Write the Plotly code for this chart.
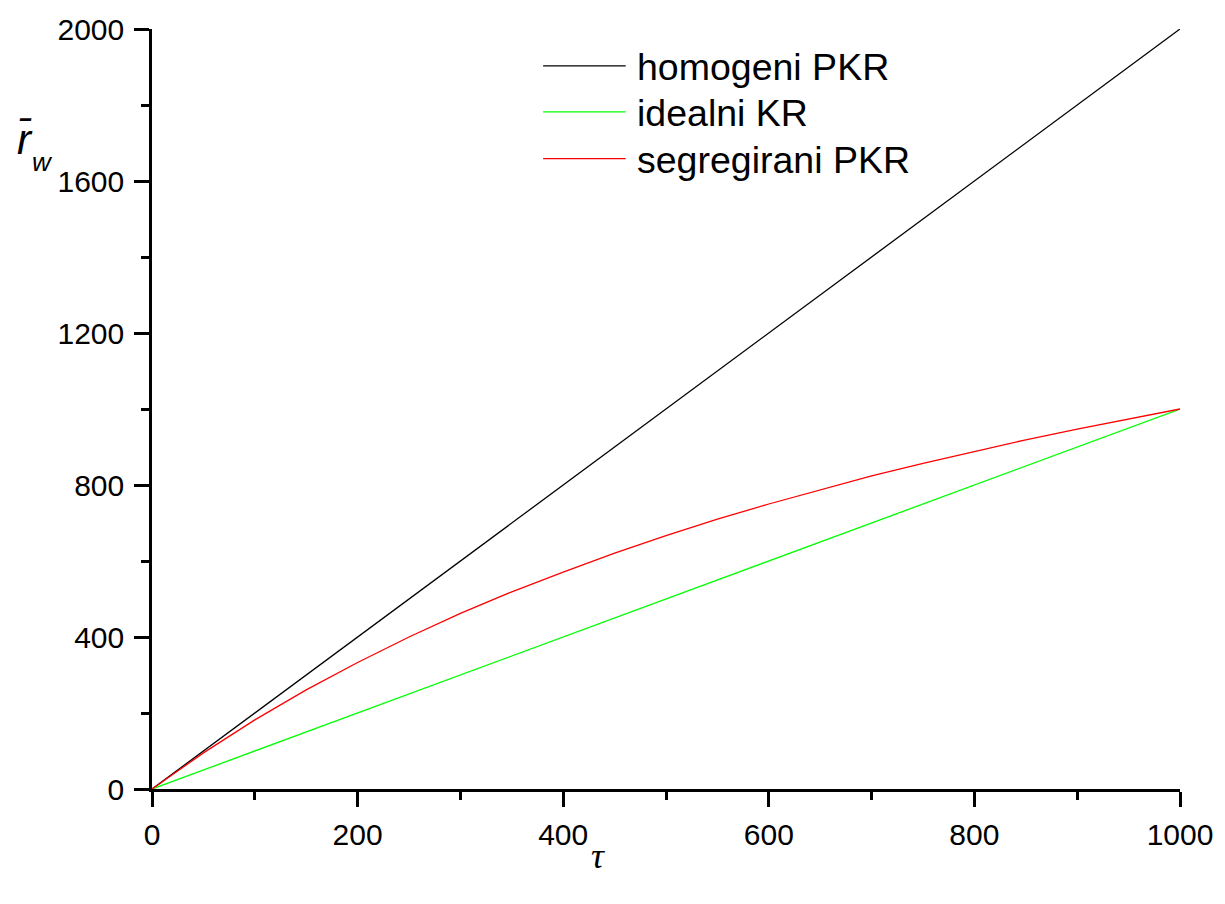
import plotly.graph_objects as go

# dimensionless time
tau = [0, 50, 100, 150, 200, 250, 300, 350, 400, 450, 500,
       550, 600, 650, 700, 750, 800, 850, 900, 950, 1000]

# mean rate for each reactor model
r_homogeni = [0, 100, 200, 300, 400, 500, 600, 700, 800, 900, 1000,
              1100, 1200, 1300, 1400, 1500, 1600, 1700, 1800, 1900, 2000]
r_idealni = [0, 50, 100, 150, 200, 250, 300, 350, 400, 450, 500,
             550, 600, 650, 700, 750, 800, 850, 900, 950, 1000]
r_segregirani = [0, 95, 182, 261, 333, 400, 462, 519, 571, 621, 667,
                 710, 750, 788, 824, 857, 889, 919, 947, 974, 1000]

series_names = ["homogeni PKR", "idealni KR", "segregirani PKR"]
series_values = [r_homogeni, r_idealni, r_segregirani]
series_colors = ["#000000", "#00ff00", "#ff0000"]

x_ticks = [0, 200, 400, 600, 800, 1000]
y_ticks = [0, 400, 800, 1200, 1600, 2000]

W, H = 1225, 904
ML, MR, MT, MB = 152, 40, 27, 115

fig = go.Figure()
for name, vals, col in zip(series_names, series_values, series_colors):
    fig.add_trace(go.Scatter(x=tau, y=vals, mode="lines", name=name,
                             line=dict(color=col, width=1.3),
                             cliponaxis=False, showlegend=False))

# legend drawn as short line samples with labels
plot_w = W - ML - MR
plot_h = H - MT - MB
def px_x(p):
    return (p - ML) / plot_w
def px_y(p):
    return (H - MB - p) / plot_h

legend_rows = [64, 110, 157]
for name, col, yy in zip(series_names, series_colors, legend_rows):
    fig.add_shape(type="line", xref="paper", yref="paper",
                  x0=px_x(545), x1=px_x(628), y0=px_y(yy), y1=px_y(yy),
                  line=dict(color=col, width=1.3))
    fig.add_annotation(xref="paper", yref="paper", x=px_x(637), y=px_y(yy + 1),
                       text=name, showarrow=False, xanchor="left", yanchor="middle",
                       font=dict(family="Arial, Liberation Sans", size=37.5, color="black"))

axis_common = dict(
    showline=True, linecolor="black", linewidth=2.5,
    ticks="outside", ticklen=15, tickwidth=2.5, tickcolor="black",
    showgrid=False, zeroline=False,
    tickfont=dict(family="Arial, Liberation Sans", size=30, color="black"),
    minor=dict(ticks="outside", ticklen=8, tickwidth=2.5, tickcolor="black", showgrid=False),
)

fig.update_xaxes(range=[0, 1000], tickvals=x_ticks, ticktext=[str(v) for v in x_ticks],
                 minor_dtick=100, minor_tick0=0, ticklabelstandoff=2, **axis_common)
fig.update_yaxes(range=[0, 2000], tickvals=y_ticks, ticktext=[str(v) for v in y_ticks],
                 minor_dtick=200, minor_tick0=0, ticklabelstandoff=4, **axis_common)

# axis titles
fig.add_annotation(xref="paper", yref="paper", x=px_x(600), y=px_y(856),
                   text="<i>τ</i>", showarrow=False, xanchor="center", yanchor="middle",
                   font=dict(family="Liberation Serif, Times New Roman", size=36, color="black"))
fig.add_annotation(xref="paper", yref="paper", x=px_x(14), y=px_y(138),
                   text="<i>r̄</i>", showarrow=False, xanchor="left", yanchor="middle",
                   font=dict(family="Arial, Liberation Sans", size=42, color="black"))
fig.add_annotation(xref="paper", yref="paper", x=px_x(29), y=px_y(160),
                   text="<i>w</i>", showarrow=False, xanchor="left", yanchor="middle",
                   font=dict(family="Arial, Liberation Sans", size=26, color="black"))

fig.update_layout(width=W, height=H, margin=dict(l=ML, r=MR, t=MT, b=MB),
                  plot_bgcolor="white", paper_bgcolor="white")

fig.write_html("out.html")
